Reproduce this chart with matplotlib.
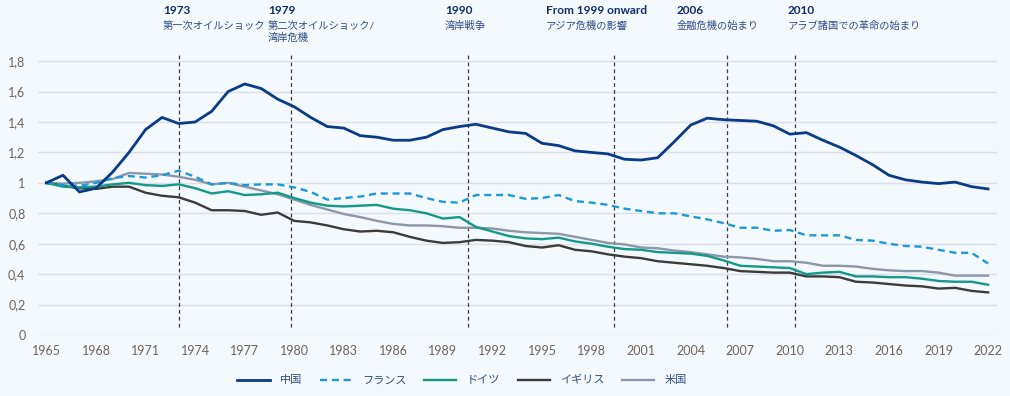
import matplotlib.pyplot as plt
import numpy as np
from matplotlib.ticker import FuncFormatter

plt.rcParams["font.family"] = ["Lato", "Noto Sans CJK JP", "DejaVu Sans"]

years = np.arange(1965, 2023)

china = [
    1.00, 1.05, 0.94, 0.965, 1.07, 1.20, 1.35, 1.43, 1.39, 1.40,
    1.47, 1.60, 1.65, 1.62, 1.55, 1.50, 1.43, 1.37, 1.36, 1.31,
    1.30, 1.28, 1.28, 1.30, 1.35, 1.37, 1.385, 1.36, 1.335, 1.325,
    1.26, 1.245, 1.21, 1.20, 1.19, 1.155, 1.15, 1.165, 1.27, 1.38,
    1.425, 1.415, 1.41, 1.405, 1.375, 1.32, 1.33, 1.28, 1.235, 1.18,
    1.12, 1.05, 1.02, 1.005, 0.995, 1.005, 0.975, 0.96,
]
france = [
    1.00, 0.985, 0.98, 1.00, 1.03, 1.045, 1.035, 1.05, 1.08, 1.04,
    0.99, 1.00, 0.985, 0.99, 0.99, 0.97, 0.94, 0.89, 0.90, 0.91,
    0.93, 0.93, 0.93, 0.90, 0.875, 0.87, 0.92, 0.92, 0.92, 0.895,
    0.90, 0.92, 0.88, 0.87, 0.855, 0.83, 0.815, 0.80, 0.80, 0.78,
    0.76, 0.735, 0.705, 0.705, 0.685, 0.69, 0.655, 0.655, 0.655, 0.625,
    0.62, 0.60, 0.585, 0.58, 0.56, 0.54, 0.54, 0.47,
]
germany = [
    1.00, 0.975, 0.97, 0.975, 0.99, 1.00, 0.985, 0.98, 0.99, 0.965,
    0.93, 0.945, 0.92, 0.925, 0.935, 0.90, 0.87, 0.85, 0.845, 0.85,
    0.855, 0.83, 0.82, 0.80, 0.765, 0.775, 0.71, 0.68, 0.65, 0.635,
    0.63, 0.64, 0.615, 0.60, 0.58, 0.565, 0.56, 0.545, 0.54, 0.535,
    0.52, 0.49, 0.455, 0.45, 0.445, 0.44, 0.40, 0.41, 0.415, 0.385,
    0.385, 0.38, 0.38, 0.37, 0.355, 0.35, 0.35, 0.33,
]
uk = [
    1.00, 0.98, 0.965, 0.96, 0.975, 0.975, 0.935, 0.915, 0.905, 0.87,
    0.82, 0.82, 0.815, 0.79, 0.805, 0.75, 0.74, 0.72, 0.695, 0.68,
    0.685, 0.675, 0.645, 0.62, 0.605, 0.61, 0.625, 0.62, 0.61, 0.585,
    0.575, 0.59, 0.56, 0.55, 0.53, 0.515, 0.505, 0.485, 0.475, 0.465,
    0.455, 0.44, 0.42, 0.415, 0.41, 0.41, 0.385, 0.385, 0.38, 0.35,
    0.345, 0.335, 0.325, 0.32, 0.305, 0.31, 0.29, 0.28,
]
usa = [
    1.00, 0.995, 1.00, 1.01, 1.025, 1.065, 1.06, 1.055, 1.04, 1.02,
    0.99, 1.00, 0.975, 0.95, 0.925, 0.89, 0.855, 0.825, 0.795, 0.775,
    0.75, 0.73, 0.72, 0.72, 0.715, 0.705, 0.705, 0.70, 0.685, 0.675,
    0.67, 0.665, 0.645, 0.625, 0.605, 0.595, 0.575, 0.57, 0.555, 0.545,
    0.53, 0.515, 0.51, 0.50, 0.485, 0.485, 0.475, 0.455, 0.455, 0.45,
    0.435, 0.425, 0.42, 0.42, 0.41, 0.39, 0.39, 0.39,
]

# events: (line position, bold label, description)
event_x = [1973.0, 1979.8, 1990.5, 1999.35, 2006.2, 2010.3]
event_year = ["1973", "1979", "1990", "From 1999 onward", "2006", "2010"]
event_text = ["第一次オイルショック", "第二次オイルショック/\n湾岸危機", "湾岸戦争",
              "アジア危機の影響", "金融危機の始まり", "アラブ諸国での革命の始まり"]
event_text_x = [163, 268, 445, 546, 677, 788]  # pixel x of label left edge

series = [
    ("中国", china, "#0a3a88", "-", 2.0),
    ("フランス", france, "#1c9ad6", (0, (3, 2)), 1.7),
    ("ドイツ", germany, "#12998a", "-", 1.7),
    ("イギリス", uk, "#3b3b3b", "-", 1.7),
    ("米国", usa, "#8d97aa", "-", 1.7),
]

W, H = 1010, 396
bg = "#f3f9fd"
fig = plt.figure(figsize=(W / 100, H / 100), dpi=100, facecolor=bg)
ax = fig.add_axes([38 / W, (H - 335) / H, (997 - 38) / W, (335 - 52) / H], facecolor=bg)

ax.set_xlim(1964.49, 2022.54)
ax.set_ylim(0, 1.86)

for v in np.arange(0, 1.81, 0.2):
    ax.axhline(v, color="#dcdfe4", lw=1.0, zorder=0)

ax.vlines(event_x, 0.05, 1.84, colors="#3a3a3a", linestyles=(0, (3, 2.5)), lw=0.9, zorder=1)

for name, vals, color, ls, lw in series[::-1]:
    ax.plot(years, vals, color=color, ls=ls, lw=lw, label=name, zorder=2)

ax.set_xticks(np.arange(1965, 2023, 3))
ax.set_yticks(np.arange(0, 1.81, 0.2))
ax.yaxis.set_major_formatter(FuncFormatter(lambda v, p: f"{v:.1f}".replace(".", ",").replace(",0", "")))
ax.tick_params(length=0, labelsize=9, labelcolor="#6e635a")
ax.tick_params(axis="x", pad=7)
ax.tick_params(axis="y", pad=9)
for s in ax.spines.values():
    s.set_visible(False)

for px, yr, txt in zip(event_text_x, event_year, event_text):
    fig.text(px / W, 1 - 10 / H, yr, fontsize=8.5, fontweight="bold", color="#0f2d66", va="center", ha="left")
    fig.text(px / W, 1 - 21 / H, txt, fontsize=7.4, color="#2e4d85", va="top", ha="left", linespacing=1.2)

handles, labels = ax.get_legend_handles_labels()
order = [labels.index(s[0]) for s in series]
leg = fig.legend([handles[i] for i in order], [labels[i] for i in order], loc="center",
                 bbox_to_anchor=(462 / W, 1 - 380 / H), ncol=5, frameon=False, fontsize=8,
                 handlelength=2.9, columnspacing=1.6, handletextpad=0.9)
for t in leg.get_texts():
    t.set_color("#2e4d85")

fig.savefig("out.png", dpi=100, facecolor=bg)
